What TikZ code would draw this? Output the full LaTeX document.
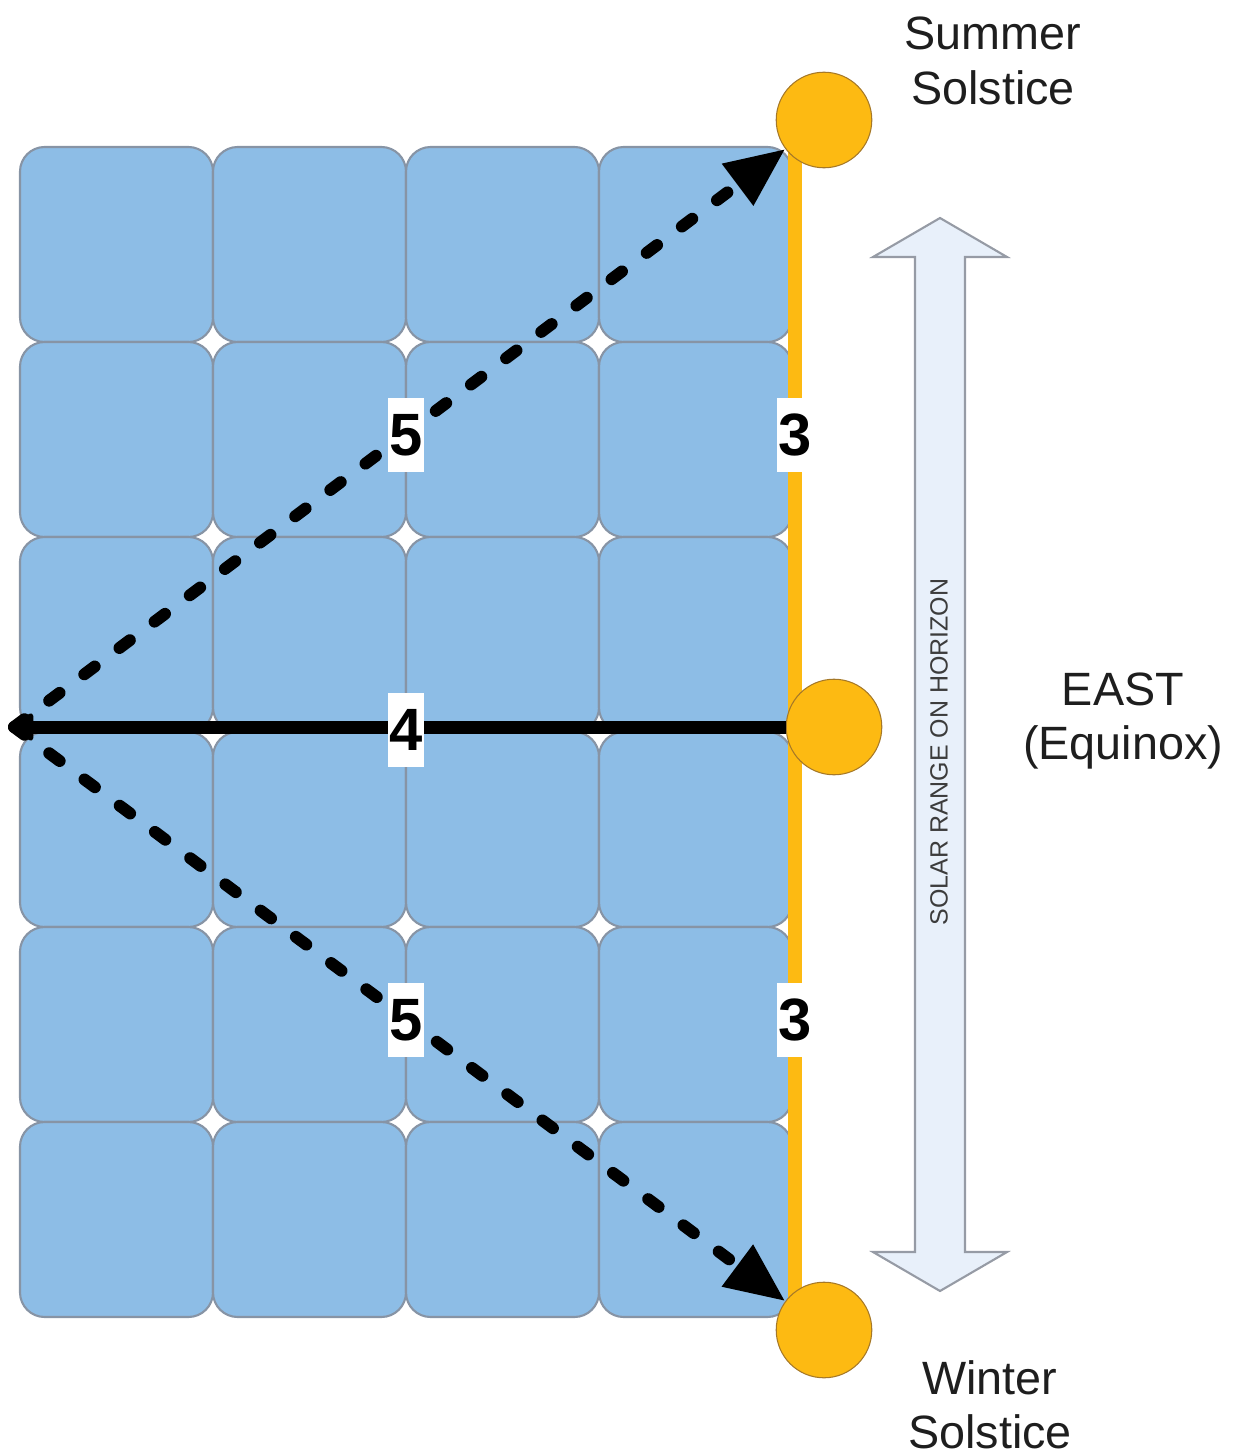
\documentclass[tikz,border=0pt]{standalone}
\usepackage{fontspec}
\setmainfont{Liberation Sans}
\usetikzlibrary{arrows.meta}

\definecolor{tilefill}{RGB}{141,189,230}
\definecolor{tileedge}{RGB}{135,148,165}
\definecolor{sunfill}{RGB}{253,186,18}
\definecolor{sunedge}{RGB}{165,120,40}
\definecolor{rangefill}{RGB}{232,240,250}
\definecolor{rangeedge}{RGB}{150,155,165}
\definecolor{inktext}{RGB}{30,30,30}

\tikzset{
  tile/.style={fill=tilefill, draw=tileedge, line width=1.2pt, rounded corners=14pt},
  sun/.style={circle, fill=sunfill, draw=sunedge, line width=0.6pt,
              minimum size=54.4pt, inner sep=0pt},
  sightline/.style={line width=6.8pt, line cap=round,
              dash pattern=on 7.4pt off 17.6pt,
              -{Triangle[length=34pt,width=28pt]}},
  eastline/.style={line width=7.4pt, -{Triangle[length=12pt,width=18pt,round]}},
  lenlabel/.style={fill=white, inner xsep=0.8pt, inner ysep=0pt,
              minimum height=42pt, text=black,
              font=\fontsize{34}{34}\selectfont\bfseries},
  caption/.style={align=center, text=inktext,
              font=\fontsize{26.6}{31}\selectfont}
}

\begin{document}
\begin{tikzpicture}[x=0.02cm, y=-0.02cm]
  \useasboundingbox (0,0) rectangle (1239,1456);

  % panel of 4 x 6 cells
  \foreach \c in {0,...,3}{
    \foreach \r in {0,...,5}{
      \draw[tile] ({20+193*\c},{147+195*\r}) rectangle ({20+193*(\c+1)},{147+195*(\r+1)});
    }
  }

  % horizon line
  \draw[sunfill, line width=8.5pt] (795,150) -- (795,1300);

  % sun positions
  \node[sun] (sumS) at (824,120) {};
  \node[sun] (equi) at (834,727) {};
  \node[sun] (winS) at (824,1330) {};

  \coordinate (origin) at (14,727);

  % sight lines
  \draw[sightline] (origin) -- (sumS);
  \draw[sightline] (origin) -- (winS);
  \draw[eastline] (equi.west) -- (origin);

  % lengths
  \node[lenlabel] (l5a) at (406,435) {5};
  \node[lenlabel] (l3a) at (795,435) {3};
  \node[lenlabel] (l4) at (406,730) {4};
  \node[lenlabel] (l5b) at (406,1020) {5};
  \node[lenlabel] (l3b) at (795,1020) {3};

  % solar range double arrow
  \draw[fill=rangefill, draw=rangeedge, line width=1.2pt, line join=miter]
    (915,257) -- (873,257) -- (940,218) -- (1007,257) -- (965,257)
    -- (965,1252) -- (1007,1252) -- (940,1291) -- (873,1252) -- (915,1252) -- cycle;
  \node[rotate=90, text={rgb,255:red,60;green,60;blue,60},
        font=\fontsize{14.2}{14.2}\selectfont] (range) at (939,752) {SOLAR RANGE ON HORIZON};

  % captions
  \node[caption] (capS) at (993,61) {Summer\\Solstice};
  \node[caption] (capE) at (1123,721) {EAST\\(Equinox)};
  \node[caption] (capW) at (990,1405) {Winter\\Solstice};
\end{tikzpicture}
\end{document}
